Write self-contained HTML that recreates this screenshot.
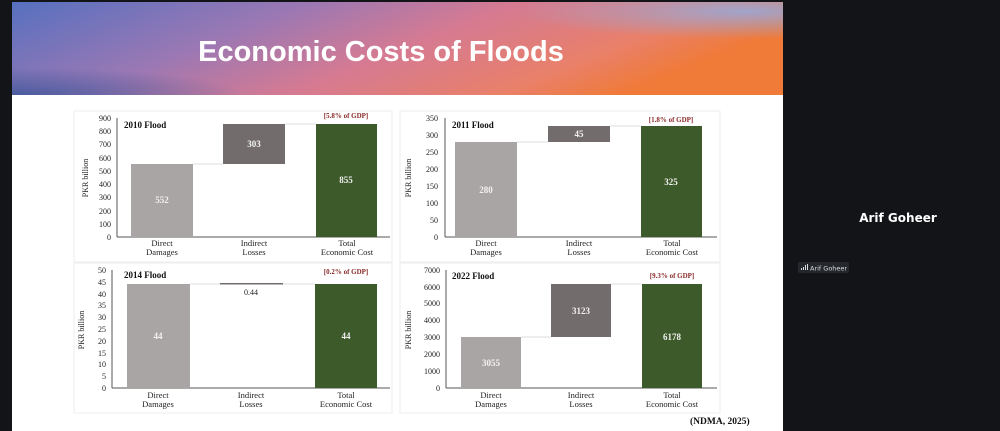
<!DOCTYPE html>
<html><head><meta charset="utf-8"><style>
html,body{margin:0;padding:0;width:1000px;height:431px;overflow:hidden;background:#121417}
svg{display:block}
.t{font-family:"Liberation Serif",serif;font-size:8px;fill:#222}
.tl{font-family:"Liberation Serif",serif;font-size:8.5px;fill:#222;text-anchor:middle}
.ti{font-family:"Liberation Serif",serif;font-size:9px;font-weight:bold;fill:#111}
.g{font-family:"Liberation Serif",serif;font-size:7px;font-weight:bold;fill:#8a2a2a;text-anchor:middle}
.v{font-family:"Liberation Serif",serif;font-size:9px;font-weight:bold;fill:#f2f2f2;text-anchor:middle}
</style></head><body>
<svg width="1000" height="431" viewBox="0 0 1000 431" xmlns="http://www.w3.org/2000/svg">
<defs>
<linearGradient id="bg" x1="0" y1="0" x2="1" y2="0.3">
<stop offset="0" stop-color="#5670c0"/><stop offset="0.35" stop-color="#9a78b4"/><stop offset="0.6" stop-color="#d57a92"/><stop offset="0.85" stop-color="#e9806a"/><stop offset="1" stop-color="#f07a38"/>
</linearGradient>
<radialGradient id="rg" cx="0.95" cy="0.1" r="0.3"><stop offset="0" stop-color="#98a8d8" stop-opacity="0.9"/><stop offset="1" stop-color="#98a8d8" stop-opacity="0"/></radialGradient>
<radialGradient id="rg2" cx="0" cy="1" r="0.3"><stop offset="0" stop-color="#3a559a" stop-opacity="0.8"/><stop offset="1" stop-color="#3a559a" stop-opacity="0"/></radialGradient>
</defs>
<rect x="12" y="2" width="771" height="429" fill="#fff"/>
<rect x="12" y="2" width="771" height="93" fill="url(#bg)"/>
<rect x="12" y="2" width="771" height="93" fill="url(#rg)"/>
<rect x="12" y="2" width="771" height="93" fill="url(#rg2)"/>
<text x="381" y="61" text-anchor="middle" font-family="Liberation Sans,sans-serif" font-weight="bold" font-size="29" fill="#fff">Economic Costs of Floods</text>

<!-- frames -->
<rect x="74" y="111" width="318" height="151" fill="none" stroke="#eee"/>
<rect x="400" y="111" width="320" height="151" fill="none" stroke="#eee"/>
<rect x="74" y="263" width="318" height="150" fill="none" stroke="#eee"/>
<rect x="400" y="263" width="320" height="150" fill="none" stroke="#eee"/>

<!-- Chart 1 -->
<g>
<line x1="117" y1="118" x2="117" y2="237" stroke="#555"/><line x1="117" y1="237" x2="390" y2="237" stroke="#555"/>
<g class="t" text-anchor="end">
<text x="111" y="240">0</text><text x="111" y="227">100</text><text x="111" y="214">200</text><text x="111" y="200">300</text><text x="111" y="187">400</text><text x="111" y="174">500</text><text x="111" y="161">600</text><text x="111" y="147">700</text><text x="111" y="134">800</text><text x="111" y="121">900</text>
</g>
<text x="0" y="0" class="t" transform="translate(88,178) rotate(-90)" text-anchor="middle">PKR billion</text>
<line x1="193" y1="164" x2="223" y2="164" stroke="#ddd"/><line x1="285" y1="124" x2="316" y2="124" stroke="#ddd"/>
<rect x="131" y="164" width="62" height="73" fill="#aaa5a5"/>
<rect x="223" y="124" width="62" height="40" fill="#736c6d"/>
<rect x="316" y="124" width="61" height="113" fill="#3d5a2a"/>
<text class="v" x="162" y="203">552</text><text class="v" x="254" y="147">303</text><text class="v" x="346" y="183">855</text>
<text class="ti" x="124" y="128">2010 Flood</text><text class="g" x="346" y="118">[5.8% of GDP]</text>
<text class="tl" x="162" y="246">Direct</text><text class="tl" x="162" y="255">Damages</text>
<text class="tl" x="254" y="246">Indirect</text><text class="tl" x="254" y="255">Losses</text>
<text class="tl" x="347" y="246">Total</text><text class="tl" x="347" y="255">Economic Cost</text>
</g>

<!-- Chart 2 -->
<g>
<line x1="445" y1="118" x2="445" y2="237" stroke="#555"/><line x1="445" y1="237" x2="717" y2="237" stroke="#555"/>
<g class="t" text-anchor="end">
<text x="438" y="240">0</text><text x="438" y="223">50</text><text x="438" y="206">100</text><text x="438" y="189">150</text><text x="438" y="172">200</text><text x="438" y="155">250</text><text x="438" y="138">300</text><text x="438" y="121">350</text>
</g>
<text class="t" transform="translate(411,178) rotate(-90)" text-anchor="middle">PKR billion</text>
<line x1="517" y1="142" x2="548" y2="142" stroke="#ddd"/><line x1="610" y1="126" x2="641" y2="126" stroke="#ddd"/>
<rect x="455" y="142" width="62" height="95" fill="#aaa5a5"/>
<rect x="548" y="126" width="62" height="16" fill="#736c6d"/>
<rect x="641" y="126" width="61" height="111" fill="#3d5a2a"/>
<text class="v" x="486" y="193">280</text><text class="v" x="579" y="137">45</text><text class="v" x="671" y="185">325</text>
<text class="ti" x="452" y="128">2011 Flood</text><text class="g" x="671" y="122">[1.8% of GDP]</text>
<text class="tl" x="486" y="246">Direct</text><text class="tl" x="486" y="255">Damages</text>
<text class="tl" x="579" y="246">Indirect</text><text class="tl" x="579" y="255">Losses</text>
<text class="tl" x="672" y="246">Total</text><text class="tl" x="672" y="255">Economic Cost</text>
</g>

<!-- Chart 3 -->
<g>
<line x1="112" y1="270" x2="112" y2="388" stroke="#555"/><line x1="112" y1="388" x2="390" y2="388" stroke="#555"/>
<g class="t" text-anchor="end">
<text x="106" y="391">0</text><text x="106" y="379">5</text><text x="106" y="367">10</text><text x="106" y="356">15</text><text x="106" y="344">20</text><text x="106" y="332">25</text><text x="106" y="320">30</text><text x="106" y="308">35</text><text x="106" y="297">40</text><text x="106" y="285">45</text><text x="106" y="273">50</text>
</g>
<text class="t" transform="translate(84,330) rotate(-90)" text-anchor="middle">PKR billion</text>
<line x1="190" y1="284" x2="315" y2="284" stroke="#ddd"/>
<rect x="127" y="284" width="63" height="104" fill="#aaa5a5"/>
<rect x="220" y="283" width="63" height="1.5" fill="#736c6d"/>
<rect x="315" y="284" width="62" height="104" fill="#3d5a2a"/>
<text class="v" x="158" y="339">44</text><text class="v" x="346" y="339">44</text>
<text class="t" x="251" y="295" text-anchor="middle">0.44</text>
<text class="ti" x="124" y="278">2014 Flood</text><text class="g" x="346" y="274">[0.2% of GDP]</text>
<text class="tl" x="158" y="398">Direct</text><text class="tl" x="158" y="407">Damages</text>
<text class="tl" x="251" y="398">Indirect</text><text class="tl" x="251" y="407">Losses</text>
<text class="tl" x="346" y="398">Total</text><text class="tl" x="346" y="407">Economic Cost</text>
</g>

<!-- Chart 4 -->
<g>
<line x1="446" y1="270" x2="446" y2="388" stroke="#555"/><line x1="446" y1="388" x2="717" y2="388" stroke="#555"/>
<g class="t" text-anchor="end">
<text x="440" y="391">0</text><text x="440" y="374">1000</text><text x="440" y="357">2000</text><text x="440" y="340">3000</text><text x="440" y="323">4000</text><text x="440" y="306">5000</text><text x="440" y="290">6000</text><text x="440" y="273">7000</text>
</g>
<text class="t" transform="translate(411,330) rotate(-90)" text-anchor="middle">PKR billion</text>
<line x1="521" y1="337" x2="551" y2="337" stroke="#ddd"/><line x1="611" y1="284" x2="642" y2="284" stroke="#ddd"/>
<rect x="461" y="337" width="60" height="51" fill="#aaa5a5"/>
<rect x="551" y="284" width="60" height="53" fill="#736c6d"/>
<rect x="642" y="284" width="60" height="104" fill="#3d5a2a"/>
<text class="v" x="491" y="366">3055</text><text class="v" x="581" y="314">3123</text><text class="v" x="672" y="340">6178</text>
<text class="ti" x="452" y="279">2022 Flood</text><text class="g" x="672" y="278">[9.3% of GDP]</text>
<text class="tl" x="491" y="398">Direct</text><text class="tl" x="491" y="407">Damages</text>
<text class="tl" x="581" y="398">Indirect</text><text class="tl" x="581" y="407">Losses</text>
<text class="tl" x="672" y="398">Total</text><text class="tl" x="672" y="407">Economic Cost</text>
</g>
<text x="690" y="424" font-family="Liberation Serif,serif" font-weight="bold" font-size="9.5" fill="#111">(NDMA, 2025)</text>

<!-- right panel -->
<text x="898" y="222" text-anchor="middle" font-family="DejaVu Sans,sans-serif" font-weight="bold" font-size="12" fill="#fff">Arif Goheer</text>
<rect x="798" y="262" width="51" height="11" rx="2" fill="#24272b"/>
<rect x="801" y="268" width="1" height="2" fill="#ddd"/><rect x="803" y="267" width="1" height="3" fill="#ddd"/><rect x="805" y="265" width="1" height="5" fill="#ddd"/><rect x="807" y="264" width="1" height="6" fill="#ddd"/>
<text x="810" y="270.5" font-family="DejaVu Sans,sans-serif" font-size="6.5" fill="#ddd">Arif Goheer</text>
</svg>
</body></html>
